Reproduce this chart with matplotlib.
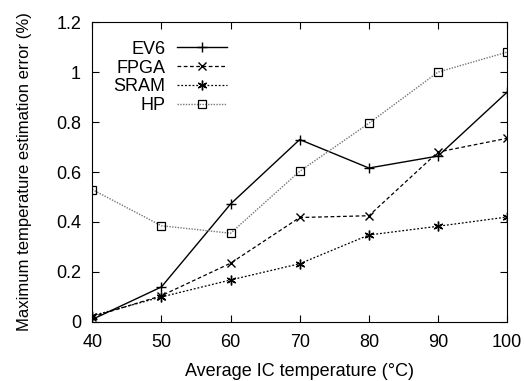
from matplotlib import pyplot as plt
import numpy as np

plt.rcParams['font.family'] = ['Liberation Sans', 'DejaVu Sans']
plt.rcParams['font.size'] = 13

temps = [40, 50, 60, 70, 80, 90, 100]
ev6 = [0.01, 0.14, 0.472, 0.73, 0.616, 0.664, 0.92]
fpga = [0.02, 0.105, 0.235, 0.418, 0.425, 0.68, 0.735]
sram = [0.025, 0.10, 0.168, 0.233, 0.348, 0.383, 0.42]
hp = [0.53, 0.385, 0.355, 0.603, 0.795, 1.0, 1.08]

fig = plt.figure(figsize=(5.24, 3.81), dpi=100)
ax = fig.add_axes([0.176, 0.155, 0.792, 0.787])

ax.plot(temps, ev6, color='black', linestyle='-', linewidth=1, marker='+', markersize=7, label='EV6')
ax.plot(temps, fpga, color='black', linestyle=(0, (3, 2)), linewidth=0.9, marker='x', markersize=6, label='FPGA')
ax.plot(temps, sram, color='black', linestyle=(0, (1.5, 1.5)), linewidth=0.9, marker=(6, 2, 0), markersize=7, label='SRAM')
ax.plot(temps, hp, color='#777777', linestyle=(0, (1, 1)), linewidth=1, marker='s', markersize=6,
        markerfacecolor='none', markeredgecolor='black', markeredgewidth=0.9, label='HP')

ax.set_xlim(40, 100)
ax.set_ylim(0, 1.2)
ax.set_xticks(np.arange(40, 101, 10))
ax.set_yticks([0, 0.2, 0.4, 0.6, 0.8, 1, 1.2])
ax.set_yticklabels(['0', '0.2', '0.4', '0.6', '0.8', '1', '1.2'])
ax.tick_params(direction='in', top=True, right=True, length=5)
ax.tick_params(axis='y', pad=8)
ax.tick_params(axis='x', pad=9)
ax.set_xlabel('Average IC temperature (°C)', fontsize=13, labelpad=8)
ax.set_ylabel('Maximum temperature estimation error (%)', fontsize=12, labelpad=17)

ax.legend(loc='upper left', bbox_to_anchor=(0.02, 0.98), frameon=False, markerfirst=False,
          handlelength=2.75, handletextpad=0.65, labelspacing=0.1, fontsize=13, borderaxespad=0.3)

plt.savefig('out.png')
